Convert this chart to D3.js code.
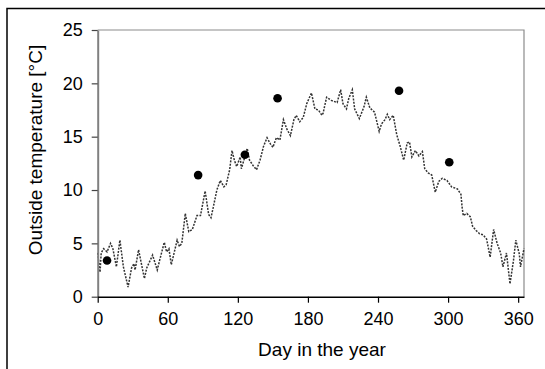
<!DOCTYPE html>
<html>
<head>
<meta charset="utf-8">
<script src="https://cdn.jsdelivr.net/npm/d3@7"></script>
<style>
  body { margin: 0; background: #fff; }
  text { font-family: "Liberation Sans", Arial, sans-serif; }
</style>
</head>
<body>
<script>
// daily outside temperature
const days = [0, 2, 3, 5, 8, 11, 13, 16, 19, 22, 26, 29, 31, 32, 35, 40, 42, 47, 51, 53,
    57, 59, 61, 63, 65, 68, 70, 72, 75, 78, 81, 85, 88, 92, 95, 97, 99, 102, 105, 108,
    110, 113, 115, 117, 119, 122, 123, 126, 128, 130, 133, 136, 139, 142, 145, 148, 150, 153, 156, 159,
    162, 165, 168, 170, 173, 176, 179, 183, 186, 189, 192, 193, 196, 200, 205, 208, 210, 213, 215, 218,
    220, 224, 228, 230, 233, 237, 241, 243, 246, 248, 250, 253, 256, 259, 262, 265, 267, 269, 272, 275,
    278, 280, 283, 286, 289, 292, 295, 299, 303, 308, 311, 312, 313, 316, 319, 321, 324, 327, 330, 333,
    336, 339, 342, 345, 347, 350, 353, 356, 358, 361, 362, 365];
const temps = [4.1, 2.3, 4.1, 4.5, 4.2, 5.0, 4.5, 2.8, 5.3, 2.8, 0.9, 2.7, 3.1, 2.5, 4.4, 1.7, 2.7, 3.9, 2.5, 3.4,
    5.1, 4.2, 4.5, 3.0, 3.9, 5.3, 4.7, 5.0, 7.8, 6.1, 6.3, 7.6, 7.6, 9.9, 7.7, 7.4, 8.4, 10.0, 10.9, 10.3,
    10.5, 11.9, 13.7, 12.8, 12.2, 13.1, 12.0, 13.1, 13.9, 12.8, 12.3, 11.9, 12.8, 14.1, 14.9, 14.3, 14.0, 14.9, 14.7, 16.6,
    15.7, 15.1, 16.6, 17.0, 16.4, 16.8, 18.1, 19.1, 17.6, 17.5, 17.0, 17.2, 18.7, 18.4, 18.2, 19.4, 18.1, 17.6, 18.6, 19.4,
    17.6, 16.7, 17.8, 18.7, 17.7, 17.3, 15.5, 16.2, 16.6, 17.1, 16.6, 17.0, 15.2, 14.1, 12.8, 14.4, 14.5, 13.1, 13.7, 13.2,
    13.6, 12.0, 11.6, 11.4, 9.8, 10.8, 11.1, 10.9, 10.3, 10.1, 9.6, 8.4, 7.6, 7.8, 7.5, 6.6, 6.2, 5.9, 5.8, 5.4,
    3.7, 6.3, 5.0, 4.1, 2.8, 4.1, 1.2, 3.4, 5.3, 4.0, 2.8, 4.5];

// measured points
const pointDays = [8, 86, 126, 154, 258, 301];
const pointTemps = [3.4, 11.4, 13.3, 18.6, 19.3, 12.6];

const xTicks = [0, 60, 120, 180, 240, 300, 360];
const yTicks = [0, 5, 10, 15, 20, 25];

const width = 545, height = 369;
const plotLeft = 97.7, plotRight = 524, plotTop = 30, plotBottom = 296.7;

const svg = d3.select('body')
    .append('svg')
    .attr('width', width)
    .attr('height', height);

// outer frame
svg.append('rect')
    .attr('x', 7)
    .attr('y', 8.5)
    .attr('width', 560)
    .attr('height', 380)
    .attr('fill', 'none')
    .attr('stroke', '#000')
    .attr('stroke-width', 1.5);

const x = d3.scaleLinear().domain([0, 365]).range([plotLeft, plotRight]);
const y = d3.scaleLinear().domain([0, 25]).range([plotBottom, plotTop]);

// top and right plot borders
svg.append('path')
    .attr('d', 'M' + plotLeft + ',' + plotTop + 'H' + plotRight + 'V' + plotBottom)
    .attr('fill', 'none')
    .attr('stroke', '#8c8c8c')
    .attr('stroke-width', 1.2);

const line = d3.line()
    .x((d, i) => x(days[i]))
    .y(d => y(d));

svg.append('path')
    .datum(temps)
    .attr('d', line)
    .attr('fill', 'none')
    .attr('stroke', '#333')
    .attr('stroke-width', 1.5)
    .attr('stroke-dasharray', '2,1.3');

svg.append('g')
    .selectAll('circle')
    .data(pointDays)
    .enter().append('circle')
    .attr('cx', d => x(d))
    .attr('cy', (d, i) => y(pointTemps[i]))
    .attr('r', 4.3)
    .attr('fill', '#000');

const yAxis = svg.append('g')
    .attr('transform', 'translate(' + plotLeft + ',0)')
    .call(d3.axisLeft(y).tickValues(yTicks).tickSize(6).tickSizeOuter(0).tickPadding(9));
yAxis.select('.domain').attr('stroke', '#808080').attr('stroke-width', 2);
yAxis.selectAll('.tick line').attr('stroke', '#444').attr('stroke-width', 1.2);
yAxis.selectAll('text').attr('font-size', 18).attr('fill', '#000')
    .style('font-family', '"Liberation Sans", Arial, sans-serif');

const xAxis = svg.append('g')
    .attr('transform', 'translate(0,' + plotBottom + ')')
    .call(d3.axisBottom(x).tickValues(xTicks).tickSize(6).tickSizeOuter(0).tickPadding(10));
xAxis.select('.domain').attr('stroke', '#000').attr('stroke-width', 1.6);
xAxis.selectAll('.tick line').attr('stroke', '#000').attr('stroke-width', 1.2);
xAxis.selectAll('text').attr('font-size', 18).attr('fill', '#000')
    .style('font-family', '"Liberation Sans", Arial, sans-serif');

svg.append('text')
    .attr('x', 322)
    .attr('y', 356)
    .attr('text-anchor', 'middle')
    .attr('font-size', 19)
    .text('Day in the year');

svg.append('text')
    .attr('transform', 'translate(41.5,150) rotate(-90)')
    .attr('text-anchor', 'middle')
    .attr('font-size', 19)
    .text('Outside temperature [°C]');
</script>
</body>
</html>
